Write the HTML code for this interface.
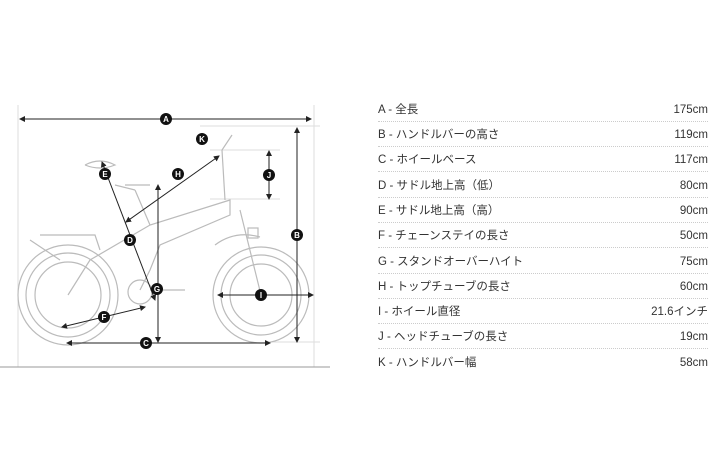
<!DOCTYPE html><html><head><meta charset="utf-8"><style>
body{margin:0;width:710px;height:474px;background:#fff;overflow:hidden;font-family:"Liberation Sans","Noto Sans CJK JP",sans-serif;position:relative}
.r{position:absolute;left:378px;width:330px;height:21px;font-size:11.5px;line-height:20px;color:#333;border-bottom:1px dotted #ccc;display:flex;justify-content:space-between;align-items:baseline}
</style></head><body>
<svg width="710" height="474" style="position:absolute;left:0;top:0">
<defs><marker id="a" markerWidth="6" markerHeight="6" refX="5" refY="3" orient="auto-start-reverse"><path d="M0,0L6,3L0,6z" fill="#222"/></marker></defs>
<g stroke="#ddd" stroke-width="1" fill="none">
<line x1="18" y1="105" x2="18" y2="367"/><line x1="314" y1="105" x2="314" y2="367"/>
<line x1="200" y1="126" x2="320" y2="126"/><line x1="210" y1="150" x2="280" y2="150"/><line x1="210" y1="199" x2="280" y2="199"/><line x1="270" y1="342" x2="320" y2="342"/>
</g>
<line x1="0" y1="367" x2="330" y2="367" stroke="#999"/>
<g stroke="#bbb" stroke-width="1.2" fill="none">
<circle cx="68" cy="295" r="50"/><circle cx="68" cy="295" r="42"/><circle cx="68" cy="295" r="33"/>
<circle cx="261" cy="295" r="48"/><circle cx="261" cy="295" r="40"/><circle cx="261" cy="295" r="31"/>
<path d="M68 295L90 260L150 225L230 200L230 215L160 245L150 270L140 290"/>
<path d="M150 225L135 190M135 190L115 185M125 185l25 0"/>
<path d="M225 200L222 150L232 135M240 210L261 295"/>
<path d="M40 235L95 235L100 250M30 240L60 260"/>
<circle cx="140" cy="292" r="12"/><path d="M150 290L185 290"/>
<path d="M85 165q15 -8 30 0q-15 6 -30 0"/>
<path d="M215 245q20 -15 45 -8"/><rect x="248" y="228" width="10" height="10"/>
</g>
<g stroke="#222" stroke-width="1" fill="none" marker-start="url(#a)" marker-end="url(#a)">
<line x1="20" y1="119" x2="311" y2="119"/>
<line x1="297" y1="128" x2="297" y2="342"/>
<line x1="67" y1="343" x2="270" y2="343"/>
<line x1="269" y1="151" x2="269" y2="199"/>
<line x1="126" y1="222" x2="219" y2="156"/>
<line x1="102" y1="162" x2="155" y2="300"/>
<line x1="158" y1="185" x2="158" y2="342"/>
<line x1="62" y1="327" x2="145" y2="307"/>
<line x1="218" y1="295" x2="313" y2="295"/>
</g>
<g font-size="8" font-weight="bold" fill="#fff" text-anchor="middle">
<g fill="#111"><circle cx="166" cy="119" r="6"/><circle cx="297" cy="235" r="6"/><circle cx="146" cy="343" r="6"/><circle cx="202" cy="139" r="6"/><circle cx="269" cy="175" r="6"/><circle cx="178" cy="174" r="6"/><circle cx="105" cy="174" r="6"/><circle cx="130" cy="240" r="6"/><circle cx="157" cy="289" r="6"/><circle cx="104" cy="317" r="6"/><circle cx="261" cy="295" r="6"/></g>
<text x="166" y="122">A</text><text x="297" y="238">B</text><text x="146" y="346">C</text><text x="202" y="142">K</text><text x="269" y="178">J</text><text x="178" y="177">H</text><text x="105" y="177">E</text><text x="130" y="243">D</text><text x="157" y="292">G</text><text x="104" y="320">F</text><text x="261" y="298">I</text>
</g>
</svg>
<div class="r" style="top:100px"><span>A - 全長</span><span>175cm</span></div>
<div class="r" style="top:125px"><span>B - ハンドルバーの高さ</span><span>119cm</span></div>
<div class="r" style="top:150px"><span>C - ホイールベース</span><span>117cm</span></div>
<div class="r" style="top:176px"><span>D - サドル地上高（低）</span><span>80cm</span></div>
<div class="r" style="top:201px"><span>E - サドル地上高（高）</span><span>90cm</span></div>
<div class="r" style="top:226px"><span>F - チェーンステイの長さ</span><span>50cm</span></div>
<div class="r" style="top:252px"><span>G - スタンドオーバーハイト</span><span>75cm</span></div>
<div class="r" style="top:277px"><span>H - トップチューブの長さ</span><span>60cm</span></div>
<div class="r" style="top:302px"><span>I - ホイール直径</span><span>21.6インチ</span></div>
<div class="r" style="top:327px"><span>J - ヘッドチューブの長さ</span><span>19cm</span></div>
<div class="r" style="top:353px;border:none"><span>K - ハンドルバー幅</span><span>58cm</span></div>
</body></html>
